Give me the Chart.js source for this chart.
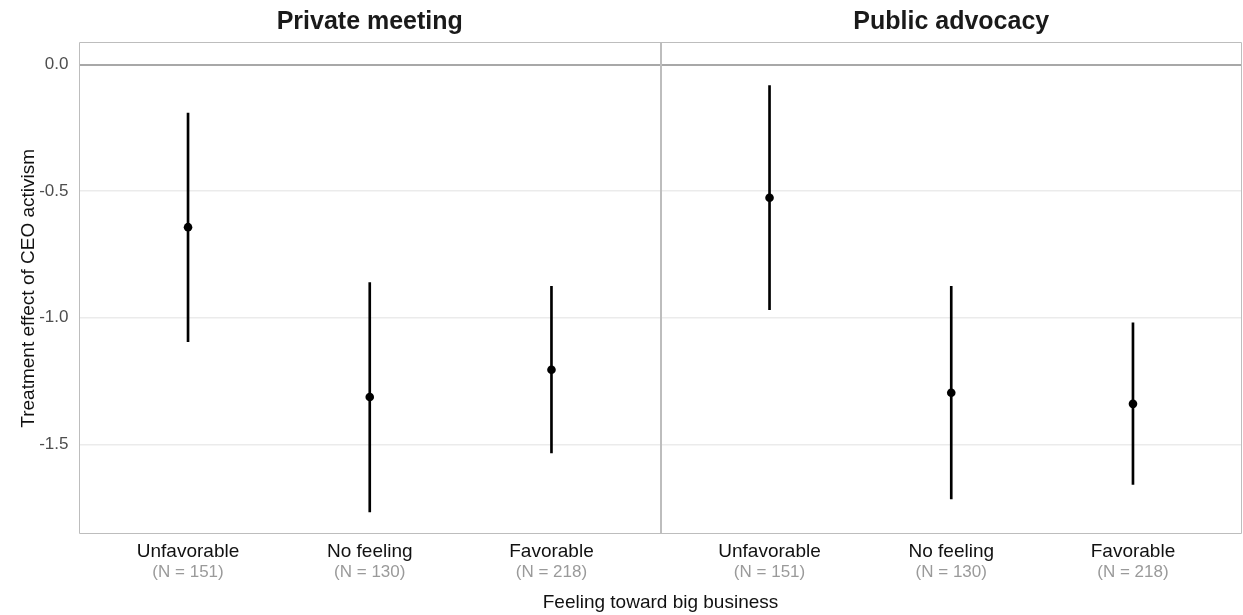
<!DOCTYPE html>
<html>
<head>
<meta charset="utf-8">
<title>Treatment effect of CEO activism by feeling toward big business</title>
<script src="https://cdn.jsdelivr.net/npm/chart.js@4.4.1/dist/chart.umd.min.js"></script>
<style>
  html, body { margin: 0; padding: 0; background: #ffffff; }
  #wrap { width: 1243px; height: 615px; overflow: hidden; background: #ffffff; }
</style>
</head>
<body>
<div id="wrap">
  <canvas id="chart" width="1243" height="615"></canvas>
</div>
<script>
// Facets (one panel each)
const panels = ['Private meeting', 'Public advocacy'];

// Groups of respondents and their sample sizes
const categories = ['Unfavorable', 'No feeling', 'Favorable'];
const nCounts = [151, 130, 218];

// Private meeting: point estimates and 95% interval bounds
const privateEst = [-0.642, -1.313, -1.205];
const privateLow = [-1.094, -1.767, -1.534];
const privateHigh = [-0.191, -0.861, -0.876];

// Public advocacy: point estimates and 95% interval bounds
const publicEst = [-0.526, -1.296, -1.340];
const publicLow = [-0.968, -1.716, -1.658];
const publicHigh = [-0.083, -0.876, -1.020];

// Axis ticks
const yTicks = [-1.5, -1.0, -0.5, 0.0];

// Each panel spans 3.2 units of the shared x axis (3 groups + 0.6 margin per side)
const PANEL_W = 3.2, PANEL_PAD = 0.6;
const X_MIN = PANEL_PAD - 1;                       // 0.4
const X_MAX = X_MIN + PANEL_W * panels.length;     // 6.8
const xFor = (p, i) => X_MIN + p * PANEL_W + PANEL_PAD + i;
const xPositions = [];
panels.forEach((_, p) => categories.forEach((_, i) => xPositions.push(xFor(p, i))));
const panelCenters = panels.map((_, p) => X_MIN + p * PANEL_W + PANEL_W / 2);
const panelEdges = panels.map((_, p) => X_MIN + p * PANEL_W).concat([X_MAX]);

const est = privateEst.concat(publicEst);
const low = privateLow.concat(publicLow);
const high = privateHigh.concat(publicHigh);
const tickCats = categories.concat(categories);
const tickNs = nCounts.concat(nCounts);

// Shared y range: data plus the zero reference, padded by 5% on each side
const allVals = [0, ...low, ...high];
const yLo = Math.min(...allVals), yHi = Math.max(...allVals);
const yPad = (yHi - yLo) * 0.05;
const Y_MIN = yLo - yPad, Y_MAX = yHi + yPad;

Chart.defaults.font.family = "'Liberation Sans', Arial, Helvetica, sans-serif";
Chart.defaults.color = '#4d4d4d';

// Outline of each facet panel
const panelBox = {
  id: 'panelBox',
  afterDatasetsDraw(chart) {
    const a = chart.chartArea, ctx = chart.ctx, xs = chart.scales.x;
    const top = Math.round(a.top) + 0.5, bottom = Math.round(a.bottom) - 0.5;
    ctx.save();
    ctx.strokeStyle = '#bdbdbd';
    ctx.lineWidth = 1;
    ctx.beginPath();
    const l = Math.round(xs.getPixelForValue(panelEdges[0])) + 0.5;
    const r = Math.round(xs.getPixelForValue(panelEdges[panelEdges.length - 1])) - 0.5;
    ctx.moveTo(l, top); ctx.lineTo(r, top);
    ctx.moveTo(l, bottom); ctx.lineTo(r, bottom);
    ctx.moveTo(l, top); ctx.lineTo(l, bottom);
    ctx.moveTo(r, top); ctx.lineTo(r, bottom);
    ctx.stroke();
    ctx.lineWidth = 2;
    ctx.beginPath();
    for (let k = 1; k < panelEdges.length - 1; k++) {
      const x = Math.round(xs.getPixelForValue(panelEdges[k]));
      ctx.moveTo(x, top - 0.5); ctx.lineTo(x, bottom + 0.5);
    }
    ctx.stroke();
    ctx.restore();
  }
};

const noPad = s => { s.paddingLeft = 0; s.paddingRight = 0; };

new Chart(document.getElementById('chart'), {
  type: 'bar',
  data: {
    datasets: [
      {
        type: 'bar',
        data: xPositions.map((x, i) => ({ x: x, y: [low[i], high[i]] })),
        backgroundColor: '#000000',
        borderWidth: 0,
        barThickness: 2,
        order: 1
      },
      {
        type: 'scatter',
        data: xPositions.map((x, i) => ({ x: x, y: est[i] })),
        backgroundColor: '#000000',
        borderColor: '#000000',
        pointRadius: 4.3,
        pointHoverRadius: 4.3,
        borderWidth: 0,
        order: 0
      }
    ]
  },
  options: {
    responsive: false,
    animation: false,
    devicePixelRatio: 1,
    layout: { autoPadding: false, padding: { left: 0, right: 1, top: 0, bottom: 0 } },
    plugins: {
      legend: { display: false },
      tooltip: { enabled: false },
      title: { display: false }
    },
    scales: {
      facet: {
        type: 'linear',
        position: 'top',
        min: X_MIN, max: X_MAX,
        offset: false,
        grid: { display: false, drawTicks: false },
        border: { display: false },
        afterBuildTicks: s => { s.ticks = panelCenters.map(v => ({ value: v })); },
        afterFit: s => { s.height = 42.3; noPad(s); },
        ticks: {
          autoSkip: false,
          maxRotation: 0,
          padding: 5,
          color: '#1a1a1a',
          font: { size: 25, weight: 'bold', lineHeight: 1.2 },
          callback: (v, i) => panels[i]
        }
      },
      x: {
        type: 'linear',
        position: 'bottom',
        weight: 0,
        min: X_MIN, max: X_MAX,
        offset: false,
        grid: { display: false, offset: false, drawTicks: false },
        border: { display: false },
        afterBuildTicks: s => { s.ticks = xPositions.map(v => ({ value: v })); },
        afterFit: s => { s.height = 29; noPad(s); },
        ticks: {
          autoSkip: false,
          maxRotation: 0,
          padding: 6,
          color: '#111111',
          font: { size: 19, lineHeight: 1.2 },
          callback: (v, i) => tickCats[i]
        }
      },
      xN: {
        type: 'linear',
        position: 'bottom',
        weight: 1,
        min: X_MIN, max: X_MAX,
        offset: false,
        grid: { display: false, drawTicks: false },
        border: { display: false },
        afterBuildTicks: s => { s.ticks = xPositions.map(v => ({ value: v })); },
        afterFit: s => { s.height = 51.7; noPad(s); },
        ticks: {
          autoSkip: false,
          maxRotation: 0,
          padding: 0.2,
          color: '#9a9a9a',
          font: { size: 17, lineHeight: 1 },
          callback: (v, i) => '(N = ' + tickNs[i] + ')'
        },
        title: {
          display: true,
          text: 'Feeling toward big business',
          color: '#111111',
          font: { size: 19, lineHeight: 1.2 },
          padding: { top: 0, bottom: 1.2 }
        }
      },
      y: {
        type: 'linear',
        position: 'left',
        min: Y_MIN, max: Y_MAX,
        afterBuildTicks: s => { s.ticks = yTicks.map(v => ({ value: v })); },
        afterFit: s => { s.width = 79; },
        grid: {
          drawTicks: false,
          color: c => (c.tick && c.tick.value === 0) ? '#a8a8a8' : '#ebebeb',
          lineWidth: c => (c.tick && c.tick.value === 0) ? 2 : 1.5
        },
        border: { display: false },
        ticks: {
          padding: 10.5,
          color: '#4d4d4d',
          font: { size: 17 },
          callback: v => v.toFixed(1)
        },
        title: {
          display: true,
          text: 'Treatment effect of CEO activism',
          color: '#111111',
          font: { size: 19, lineHeight: 1.2 },
          padding: { top: 17, bottom: 0 }
        }
      }
    }
  },
  plugins: [panelBox]
});
</script>
</body>
</html>
